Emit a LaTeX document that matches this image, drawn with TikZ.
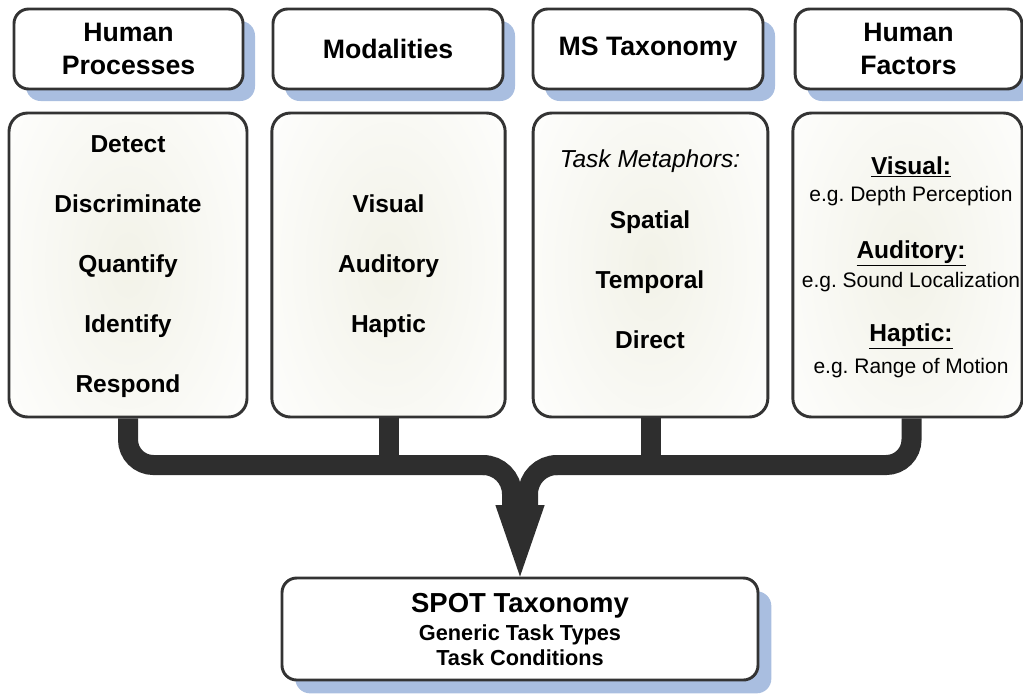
\documentclass[tikz,border=0pt]{standalone}
\usepackage{fontspec}
\setmainfont{Liberation Sans}
\usetikzlibrary{shadows}
\definecolor{edge}{HTML}{333333}
\definecolor{pipecol}{HTML}{2E2E2E}
\definecolor{shadowblue}{HTML}{A9BEE0}
\definecolor{glow}{HTML}{F2F2E8}
\pgfdeclarelayer{bg}
\pgfsetlayers{bg,main}
\frenchspacing

\begin{document}
\begin{tikzpicture}[x=0.75pt,y=-0.75pt,
  box/.style={draw=edge, line width=2.2pt, fill=white, rounded corners=11pt, inner sep=0pt},
  head/.style={box, minimum height=60pt,
    drop shadow={shadow xshift=9pt, shadow yshift=-9pt, fill=shadowblue, opacity=1},
    font=\bfseries\fontsize{20}{24.5}\selectfont, align=center},
  panel/.style={box, rounded corners=14pt, minimum height=228pt,
    path picture={\shade[inner color=glow, outer color=white]
      (path picture bounding box.center) ellipse (125pt and 215pt);}},
  item/.style={font=\bfseries\fontsize{18.4}{22}\selectfont, inner sep=0pt, anchor=base},
  slant/.style={font=\itshape\fontsize{18.4}{22}\selectfont, inner sep=0pt, anchor=base},
  note/.style={font=\fontsize{15.75}{19}\selectfont, inner sep=0pt, anchor=base},
  pipe/.style={draw=pipecol, line width=15pt, line cap=butt}
]
\useasboundingbox (0,0) rectangle (1023,694);
\clip (0,0) rectangle (1023,694);

% column headers
\node[head, minimum width=171.75pt] (hph) at (128.5,49) {Human\\Processes};
\node[head, minimum width=172.5pt] (modh) at (388,49) {Modalities};
\node[head, minimum width=172.5pt] (msh) at (648,49) {MS Taxonomy};
\node[head, minimum width=170pt] (hfh) at (908.5,49) {Human\\Factors};

% column panels
\node[panel, minimum width=178.5pt] (hpb) at (128,265) {};
\node[panel, minimum width=175pt] (modb) at (388.5,265) {};
\node[panel, minimum width=176pt] (msb) at (650.5,265) {};
\node[panel, minimum width=172pt] (hfb) at (907.5,265) {};

% human processes
\node[item] (hp1) at (128,152) {Detect};
\node[item] (hp2) at (128,212) {Discriminate};
\node[item] (hp3) at (128,272) {Quantify};
\node[item] (hp4) at (128,332) {Identify};
\node[item] (hp5) at (128,392) {Respond};

% modalities
\node[item] (mo1) at (388.5,212) {Visual};
\node[item] (mo2) at (388.5,272) {Auditory};
\node[item] (mo3) at (388.5,332) {Haptic};

% task metaphors
\node[slant] (ms0) at (650,167) {Task Metaphors:};
\node[item] (ms1) at (650,228) {Spatial};
\node[item] (ms2) at (650,288) {Temporal};
\node[item] (ms3) at (650,348) {Direct};

% human factors
\node[item] (hf1) at (911,174) {\underline{Visual:}};
\node[note] (hf1e) at (911,201) {e.g. Depth Perception};
\node[item] (hf2) at (911,258) {\underline{Auditory:}};
\node[note] (hf2e) at (911,287) {e.g. Sound Localization};
\node[item] (hf3) at (911,341) {\underline{Haptic:}};
\node[note] (hf3e) at (911,373) {e.g. Range of Motion};

% result box
\node[box, minimum width=357pt, minimum height=76.5pt,
  drop shadow={shadow xshift=10pt, shadow yshift=-10pt, fill=shadowblue, opacity=1}]
  (spot) at (520,629) {};
\node[font=\bfseries\fontsize{20.6}{24}\selectfont, inner sep=0pt, anchor=base] (sp1) at (520,612) {SPOT Taxonomy};
\node[font=\bfseries\fontsize{16.3}{19}\selectfont, inner sep=0pt, anchor=base] (sp2) at (520,640) {Generic Task Types};
\node[font=\bfseries\fontsize{16.3}{19}\selectfont, inner sep=0pt, anchor=base] (sp3) at (520,665) {Task Conditions};

% merging connector
\coordinate (bar) at (0,465);
\coordinate (mid) at (520,505);
\begin{pgfonlayer}{bg}
  % outer branches with rounded elbows
  \draw[pipe, rounded corners=19pt] (hpb.south) |- (485,465);
  \draw[pipe, rounded corners=19pt] ([xshift=3pt]hfb.south) |- (555,465);
  % the two branches bend down into the arrow
  \draw[pipe] (483,465) .. controls (499,465) and (512,478) .. (512,494) -- (512,512);
  \draw[pipe] (557,465) .. controls (541,465) and (528,478) .. (528,494) -- (528,512);
  % inner feeders
  \draw[pipe] (modb.south) -- (modb.south |- bar);
  \draw[pipe] (msb.south) -- (msb.south |- bar);
  \fill[pipecol] ([xshift=-18.5pt]mid) -- ([xshift=18.5pt]mid) -- (spot.north) -- cycle;
\end{pgfonlayer}
\end{tikzpicture}
\end{document}
